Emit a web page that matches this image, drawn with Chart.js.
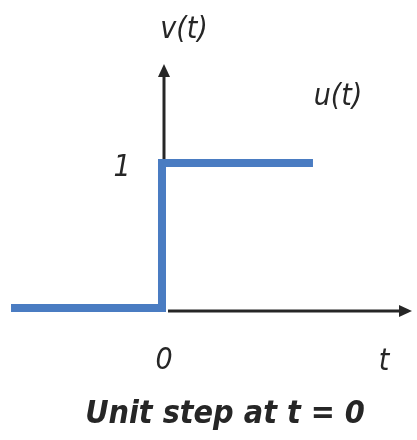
<!DOCTYPE html>
<html>
<head>
<meta charset="utf-8">
<script src="https://cdn.jsdelivr.net/npm/chart.js@4"></script>
<style>
  html, body { margin: 0; padding: 0; background: #fff; }
  #wrap { width: 417px; height: 440px; }
</style>
</head>
<body>
<div id="wrap"><canvas id="stepChart"></canvas></div>
<script>
// data
const tValues = [-1, 0, 0, 1];
const uValues = [0, 0, 1, 1];
const xTicks = ['0'];
const yTicks = ['1'];
const seriesName = 'u(t)';
const titleText = 'Unit step at t = 0';

const FONT = '"Liberation Sans Narrow", "DejaVu Sans Condensed", sans-serif';
const INK = '#262626';

// axes with arrows + labels
const axesPlugin = {
  id: 'axesPlugin',
  afterDraw(chart) {
    const { ctx, scales: { x, y } } = chart;
    const x0 = x.getPixelForValue(0) + 2;
    const y0 = y.getPixelForValue(0) + 3;
    const yTop = 64, xRight = 412;

    ctx.save();
    ctx.strokeStyle = INK;
    ctx.fillStyle = INK;
    ctx.lineWidth = 3;
    // vertical axis (behind the step, so draw only above the top of the line)
    ctx.beginPath();
    ctx.moveTo(x0, y.getPixelForValue(1) - 4);
    ctx.lineTo(x0, yTop + 10);
    ctx.stroke();
    ctx.beginPath();
    ctx.moveTo(x0, yTop);
    ctx.lineTo(x0 - 6, yTop + 13);
    ctx.lineTo(x0 + 6, yTop + 13);
    ctx.closePath();
    ctx.fill();
    // horizontal axis
    ctx.beginPath();
    ctx.moveTo(x0 + 4, y0);
    ctx.lineTo(xRight - 10, y0);
    ctx.stroke();
    ctx.beginPath();
    ctx.moveTo(xRight, y0);
    ctx.lineTo(xRight - 13, y0 - 6);
    ctx.lineTo(xRight - 13, y0 + 6);
    ctx.closePath();
    ctx.fill();

    ctx.textAlign = 'center';
    ctx.textBaseline = 'middle';
    ctx.font = 'italic 30px ' + FONT;
    ctx.fillText(xTicks[0], x.getPixelForValue(0) + 2, 361);
    ctx.fillText(yTicks[0], 122, y.getPixelForValue(1) + 5);
    ctx.fillText('t', 384, 362);
    ctx.fillText('v(t)', 184, 30);
    ctx.fillText(seriesName, 338, 97);

    ctx.font = 'bold italic 32px ' + FONT;
    ctx.fillText(titleText, 225, 415);
    ctx.restore();
  }
};

new Chart(document.getElementById('stepChart'), {
  type: 'line',
  data: {
    datasets: [{
      label: seriesName,
      data: tValues.map((t, i) => ({ x: t, y: uValues[i] })),
      borderColor: '#4a7cc2',
      borderWidth: 8,
      borderCapStyle: 'butt',
      borderJoinStyle: 'miter',
      pointRadius: 0,
      fill: false,
      tension: 0
    }]
  },
  options: {
    responsive: true,
    maintainAspectRatio: false,
    animation: false,
    layout: { padding: 0 },
    plugins: { legend: { display: false }, tooltip: { enabled: false } },
    scales: {
      x: { type: 'linear', min: -1.073, max: 1.689, display: false },
      y: { type: 'linear', min: -0.91, max: 2.124, display: false }
    }
  },
  plugins: [axesPlugin]
});
</script>
</body>
</html>
